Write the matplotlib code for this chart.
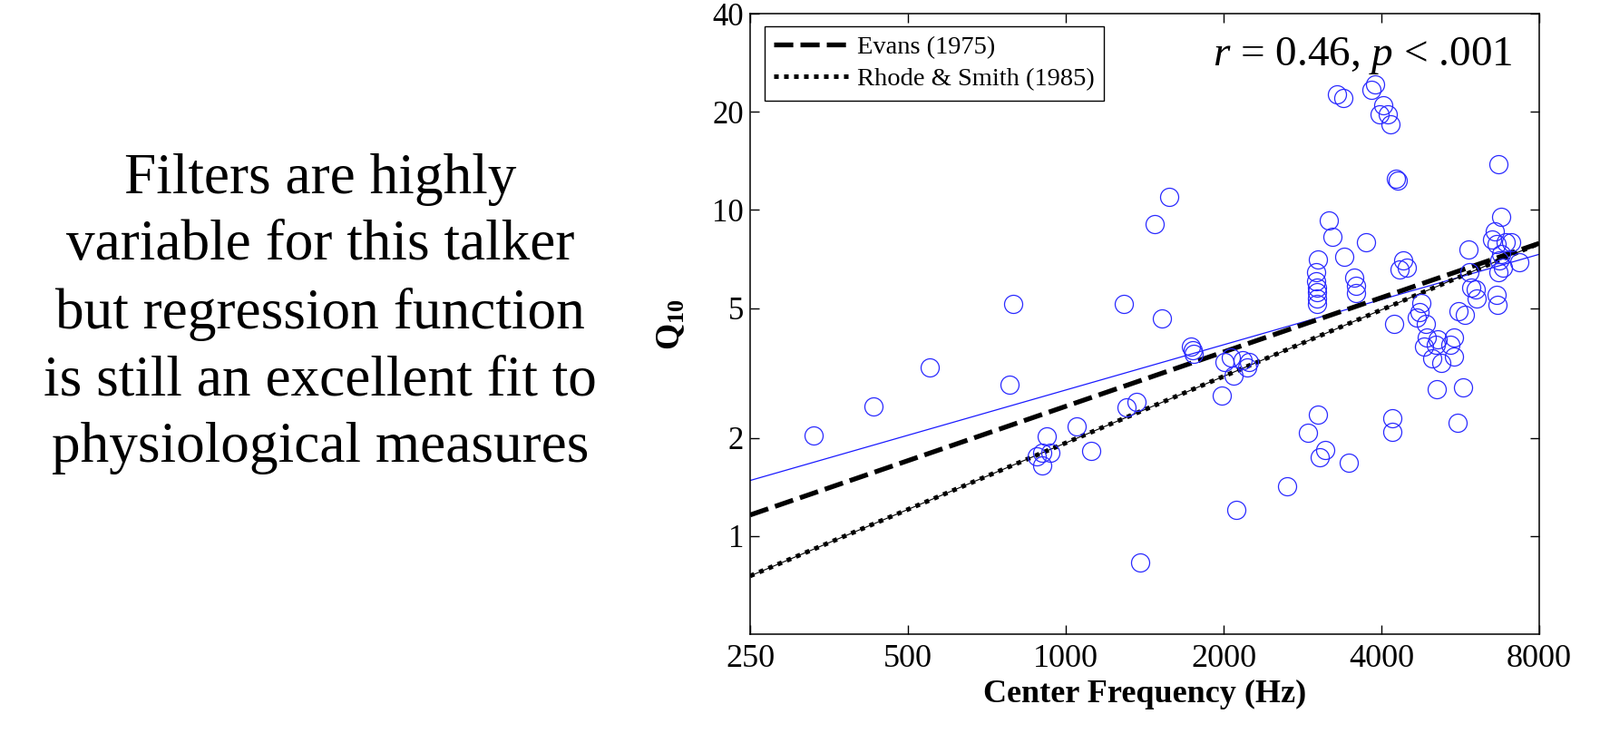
import numpy as np
import matplotlib.pyplot as plt

plt.rcParams['font.family'] = ['Liberation Serif', 'DejaVu Serif']
plt.rcParams['mathtext.fontset'] = 'custom'
plt.rcParams['mathtext.rm'] = 'Liberation Serif'
plt.rcParams['mathtext.it'] = 'Liberation Serif:italic'
plt.rcParams['mathtext.bf'] = 'Liberation Serif:bold'

# center frequency (Hz) and Q10 of each filter
freq = [330, 429, 550, 780, 793, 882, 900, 903, 921, 936,
        1048, 1117, 1289, 1307, 1363, 1385, 1475, 1525, 1573, 1730,
        1745, 1757, 1982, 2007, 2064, 2089, 2114, 2174, 2218, 2234,
        2643, 2896, 3001, 3005, 3010, 3015, 3018, 3023, 3020, 3027,
        3048, 3121, 3170, 3222, 3290, 3380, 3403, 3461, 3546, 3578,
        3578, 3745, 3835, 3885, 3963, 4030, 4113, 4170, 4196, 4196,
        4222, 4270, 4296, 4326, 4395, 4466, 4666, 4730, 4762, 4824,
        4857, 4890, 5007, 5088, 5105, 5122, 5209, 5424, 5495, 5495,
        5583, 5620, 5718, 5771, 5864, 5885, 5925, 6045, 6080, 6500,
        6590, 6630, 6630, 6650, 6680, 6700, 6720, 6770, 6770, 6820,
        6900, 7070, 7330]
q10 = [2.04, 2.50, 3.28, 2.92, 5.14, 1.75, 1.80, 1.65, 2.02, 1.80,
       2.17, 1.82, 5.14, 2.48, 2.58, 0.83, 9.06, 4.65, 10.98, 3.81,
       3.72, 3.61, 2.70, 3.42, 3.53, 3.11, 1.20, 3.46, 3.28, 3.42,
       1.42, 2.07, 6.43, 6.03, 5.78, 5.60, 5.36, 7.03, 5.14, 2.35,
       1.74, 1.84, 9.31, 8.26, 22.6, 22.0, 7.19, 1.68, 6.19, 5.84,
       5.56, 7.96, 23.4, 24.3, 19.6, 20.9, 19.65, 18.3, 2.29, 2.09,
       4.47, 12.5, 12.3, 6.57, 7.0, 6.64, 4.67, 4.87, 5.19, 3.81,
       4.47, 4.06, 3.50, 3.85, 2.82, 4.02, 3.40, 3.85, 4.06, 3.55,
       2.23, 4.89, 2.85, 4.77, 7.55, 6.43, 5.78, 5.72, 5.36, 8.14,
       8.59, 7.88, 5.48, 5.10, 6.43, 13.8, 7.0, 9.51, 7.31, 6.64,
       7.96, 7.96, 6.93]

# end points of the three lines
line_x = [250, 8000]
fit_y = [1.48, 7.31]
evans_y = [1.16, 7.9]
rhode_y = [0.754, 7.9]

xticks = [250, 500, 1000, 2000, 4000, 8000]
yticks = [1, 2, 5, 10, 20, 40]

fig = plt.figure(figsize=(17.65, 8.3), dpi=100)
ax = fig.add_axes([827/1765, 1 - 699/830, 870/1765, 684/830])

ax.plot(freq, q10, 'o', ms=14.4, mfc='none', mec='#2a2aff', mew=0.9, zorder=3)
ax.plot(line_x, fit_y, color='#1a1aff', lw=0.9, zorder=2)
ax.plot(line_x, evans_y, color='black', lw=3.8, dashes=(4, 1.5),
        dash_capstyle='butt', label='Evans (1975)', zorder=2)
ax.plot(line_x, rhode_y, color='black', lw=0.8, zorder=2)
ax.plot(line_x, rhode_y, color='black', lw=3.6, dashes=(1, 1.2),
        dash_capstyle='butt', label='Rhode & Smith (1985)', zorder=2)

ax.set_xscale('log')
ax.set_yscale('log')
ax.set_xlim(250, 8000)
ax.set_ylim(0.5, 40)
ax.set_xticks(xticks)
ax.set_xticklabels([str(v) for v in xticks])
ax.set_yticks(yticks)
ax.set_yticklabels([str(v) for v in yticks])
ax.minorticks_off()
ax.tick_params(axis='x', direction='in', length=7, width=1, top=True, labelsize=26, pad=8)
ax.tick_params(axis='y', direction='in', length=7, width=1, right=True, labelsize=25, pad=5)
for s in ax.spines.values():
    s.set_linewidth(1.1)

leg = ax.legend(loc='upper left', bbox_to_anchor=(0.018, 0.98), borderaxespad=0,
                fontsize=20.5, handlelength=2.85, handletextpad=0.35,
                labelspacing=0.3, borderpad=0.38, fancybox=False, framealpha=1)
leg.get_frame().set_edgecolor('black')
leg.get_frame().set_linewidth(1.0)

ax.text(0.9667, 0.9167, r'$r$ = 0.46, $p$ < .001', transform=ax.transAxes,
        ha='right', va='baseline', fontsize=34)

fig.text(1262/1765, 1 - 765/830, 'Center Frequency (Hz)', ha='center', va='center',
         fontsize=26, fontweight='bold')
fig.text(740/1765, 1 - 358/830, r'$\mathbf{Q}_{\mathbf{10}}$', ha='center', va='center',
         fontsize=27, rotation=90)

fig.text(353/1765, 1 - 346/830,
         'Filters are highly\nvariable for this talker\nbut regression function\n'
         'is still an excellent fit to\nphysiological measures',
         ha='center', va='center', multialignment='center', fontsize=45.5, linespacing=1.36)

fig.savefig('out.png', dpi=100)
